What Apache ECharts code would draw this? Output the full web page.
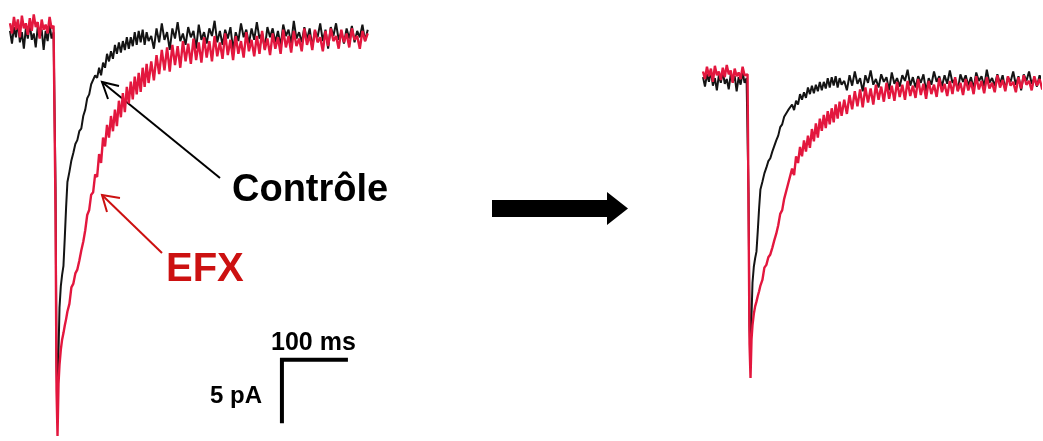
<!DOCTYPE html>
<html>
<head>
<meta charset="utf-8">
<script src="https://cdn.jsdelivr.net/npm/echarts@6/dist/echarts.min.js"></script>
<style>
html,body{margin:0;padding:0;background:#fff;}
#chart{width:1043px;height:441px;}
</style>
</head>
<body>
<div id="chart"></div>
<script>
// Time base (ms) shared by both recorded currents
const timeMs = [
  0,3,6,9,12,15,18,21,24,27,30,33,36,39,42,45,48,51,54,57,60,63,66,
  67.5,69,70.5,72,73.5,75,77,79,81,83,85,87,90,93,96,99,102,105,108,111,114,117,120,123,126,129,132,135,138,141,144,147,150,153,156,159,162,165,168,171,174,177,180,183,186,189,192,195,198,201,204,207,210,
  214,218,222,226,230,234,238,242,246,250,254,258,262,266,270,274,278,282,286,290,
  294,298,302,306,310,314,318,322,326,330,334,338,342,346,350,354,358,362,366,370,
  374,378,382,386,390,394,398,402,406,410,414,418,422,426,430,434,438,442,446,450,
  454,458,462,466,470,474,478,482,486,490,494,498,502,506,510,514,518,522,526,530,
  534,538,542
];
// Control current (pA)
const controlPA = [
  0.3,-0.7,0.6,-0.2,1.0,-0.6,0.2,-1.1,0.5,-0.3,0.9,-0.4,0.1,-1.0,0.6,-0.2,0.4,-1.2,0.3,-0.5,0.8,-0.3,0.2,
  0.2,-12,-26,-29.2,-25,-21.5,-19.8,-18.9,-18.2,-16.0,-13.6,-11.6,-10.8,-9.9,-9.3,-8.6,-8.3,-7.6,-7.4,-6.4,-5.9,-5.0,-4.7,-3.9,-3.8,-3.2,-3.4,-2.6,-3.2,-2.2,-2.6,-1.5,-2.1,-1.3,-1.9,-0.8,-1.5,-0.6,-1.4,-0.5,-1.2,-0.2,-1.1,-0.2,-0.9,0.2,-0.8,0.3,-0.6,0.4,-0.8,0.2,-0.5,
  -0.1,-1.1,0.5,-0.6,0.9,-0.4,0.2,-1.2,0.5,-0.3,1.0,-0.5,0.1,-0.8,0.6,-0.2,0.3,-1.1,0.8,-0.4,
  0.2,-0.7,0.5,-0.1,1.1,-0.6,0.3,-0.8,0.4,-0.3,0.6,-1.2,0.2,-0.5,0.9,-0.2,0.4,-0.7,0.5,-0.4,
  1.0,-0.3,0.1,-1.1,0.6,-0.2,0.5,-0.6,0.3,-0.9,0.8,-0.1,0.4,-0.7,1.1,-0.3,0.2,-0.6,0.6,-0.4,
  0.5,-1.0,0.3,-0.2,0.9,-0.5,0.4,-1.1,0.6,-0.1,0.9,-0.4,0.2,-0.7,0.5,-0.3,0.7,-0.6,0.3,-0.2,
  0.8,-0.5,0.4
];
// EFX current (pA)
const efxPA = [
  0.9,0.1,1.4,0.4,1.2,-0.2,1.5,0.5,0.9,0.0,1.3,0.3,1.6,0.6,1.0,-0.3,1.2,0.4,0.8,0.1,1.4,0.5,0.7,
  0.6,-14,-28,-31.6,-27.5,-26.0,-24.8,-24.0,-23.5,-22.9,-22.4,-21.8,-21.2,-19.9,-19.6,-18.8,-18.5,-17.8,-17.0,-16.3,-15.4,-14.2,-13.8,-12.6,-12.4,-11.0,-11.2,-9.4,-10.1,-8.1,-8.8,-7.1,-8.1,-6.4,-7.6,-5.9,-7.2,-5.2,-6.5,-4.6,-6.1,-4.1,-5.4,-3.7,-5.1,-3.3,-4.7,-3.0,-4.5,-2.6,-4.1,-2.3,-3.8,
  -2.1,-3.6,-1.6,-3.1,-1.2,-2.8,-1.0,-2.9,-0.8,-2.4,-0.9,-2.6,-0.5,-2.1,-0.7,-2.3,-0.3,-2.0,-0.6,-2.2,
  -0.2,-1.8,-0.5,-2.1,-0.1,-1.7,-0.6,-1.9,0.1,-1.6,-0.4,-2.0,-0.1,-1.5,-0.5,-1.8,0.2,-1.3,-0.4,-1.7,
  -0.1,-1.5,0.3,-1.2,-0.3,-1.6,0.1,-1.1,-0.2,-1.5,0.4,-1.0,-0.1,-1.4,0.3,-0.9,-0.3,-1.3,0.5,-0.8,
  0.0,-1.2,0.4,-0.6,-0.2,-1.3,0.3,-0.9,0.5,-0.5,-0.1,-1.1,0.4,-0.6,0.1,-1.0,0.5,-0.4,-0.1,-1.1,
  0.3,-0.5,0.1
];
// Scale bar values
const scaleBarMs = 100;
const scaleBarPA = 5;
const seriesNames = ['Contrôle', 'EFX'];

const pairs = vals => timeMs.map((t, i) => [t, vals[i]]);
const BLACK = '#141414';
const RED = '#e3173e';
const FONT = 'Liberation Sans, Arial, sans-serif';

const chart = echarts.init(document.getElementById('chart'), null, {renderer: 'canvas'});
const sbT = 412, sbV = -25.6;

const traceSeries = (name, data, color, width, axis) => ({
  type: 'line', name, data, xAxisIndex: axis, yAxisIndex: axis,
  showSymbol: false, symbol: 'none', sampling: null, animation: false,
  lineStyle: {color, width}, z: name === 'EFX' ? 3 : 2, silent: true
});

chart.setOption({
  animation: false,
  backgroundColor: '#ffffff',
  grid: [
    {left: 10, top: 3, width: 360, height: 441.6},
    {left: 703, top: 56.4, width: 337, height: 325.4}
  ],
  xAxis: [
    {type: 'value', gridIndex: 0, min: 0, max: 545.45, show: false},
    {type: 'value', gridIndex: 1, min: 0, max: 510.6, show: false}
  ],
  yAxis: [
    {type: 'value', gridIndex: 0, min: -32, max: 2.5, show: false},
    {type: 'value', gridIndex: 1, min: -32, max: 2.5, show: false}
  ],
  series: [
    traceSeries(seriesNames[0], pairs(controlPA), BLACK, 2, 0),
    traceSeries(seriesNames[1], pairs(efxPA), RED, 2.4, 0),
    traceSeries(seriesNames[0], pairs(controlPA), BLACK, 2, 1),
    traceSeries(seriesNames[1], pairs(efxPA), RED, 2.4, 1),
    {
      type: 'line', name: 'scale', xAxisIndex: 0, yAxisIndex: 0,
      data: [[sbT + scaleBarMs, sbV], [sbT, sbV], [sbT, sbV - scaleBarPA]],
      showSymbol: false, symbol: 'none', silent: true, animation: false,
      lineStyle: {color: '#000', width: 4, cap: 'butt', join: 'miter'}
    }
  ],
  graphic: [
    {type: 'line', shape: {x1: 220, y1: 178, x2: 102, y2: 82}, style: {stroke: '#000', lineWidth: 2}},
    {type: 'polyline', shape: {points: [[108, 99], [102, 82], [119, 86]]}, style: {stroke: '#000', lineWidth: 2, fill: null}},
    {type: 'line', shape: {x1: 162, y1: 253, x2: 102, y2: 195}, style: {stroke: '#cc1111', lineWidth: 2}},
    {type: 'polyline', shape: {points: [[107, 212], [102, 195], [120, 198]]}, style: {stroke: '#cc1111', lineWidth: 2, fill: null}},
    {type: 'text', left: 232, top: 172, style: {text: seriesNames[0], font: 'bold 38px ' + FONT, fill: '#000'}},
    {type: 'text', left: 166, top: 250, style: {text: seriesNames[1], font: 'bold 40px ' + FONT, fill: '#cc1111'}},
    {type: 'text', left: 271, top: 331, style: {text: scaleBarMs + ' ms', font: 'bold 25px ' + FONT, fill: '#000'}},
    {type: 'text', left: 210, top: 384, style: {text: scaleBarPA + ' pA', font: 'bold 24px ' + FONT, fill: '#000'}},
    {type: 'polygon', shape: {points: [[492, 200], [607, 200], [607, 192], [628, 208.5], [607, 225], [607, 217], [492, 217]]}, style: {fill: '#000'}}
  ]
});
</script>
</body>
</html>
